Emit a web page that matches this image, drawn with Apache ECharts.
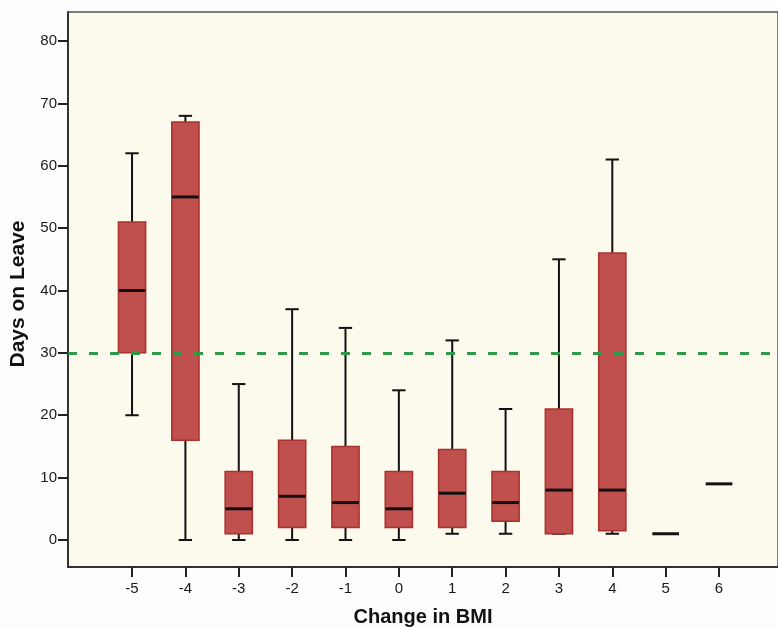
<!DOCTYPE html>
<html>
<head>
<meta charset="utf-8">
<script src="https://cdn.jsdelivr.net/npm/echarts@6/dist/echarts.min.js"></script>
<style>
html,body{margin:0;padding:0;background:#fdfdfd;}
#chart{width:778px;height:627px;}
</style>
</head>
<body>
<div id="chart"></div>
<script>
// ---- data ----
var categories = [-5, -4, -3, -2, -1, 0, 1, 2, 3, 4, 5, 6];
var lowWhisker = [20, 0, 0, 0, 0, 0, 1, 1, 1, 1, null, null];
var q1 = [30, 16, 1, 2, 2, 2, 2, 3, 1, 1.5, null, null];
var median = [40, 55, 5, 7, 6, 5, 7.5, 6, 8, 8, 1, 9];
var q3 = [51, 67, 11, 16, 15, 11, 14.5, 11, 21, 46, null, null];
var highWhisker = [62, 68, 25, 37, 34, 24, 32, 21, 45, 61, null, null];
var yTicks = [0, 10, 20, 30, 40, 50, 60, 70, 80];
var referenceLine = 30;

var boxData = categories.map(function (c, i) {
  return [c, lowWhisker[i], q1[i], median[i], q3[i], highWhisker[i]];
});

var BOX_W = 0.51, CAP_W = 0.25, MED_W = 0.5;

function renderBox(params, api) {
  var x = api.value(0);
  var lo = api.value(1), a = api.value(2), m = api.value(3), b = api.value(4), hi = api.value(5);
  var children = [];
  var black = '#111';
  function pt(xx, yy) { return api.coord([xx, yy]); }
  var hasBox = !isNaN(a) && a !== null && !isNaN(b);
  if (hasBox) {
    var pLo = pt(x, lo), pA = pt(x, a), pB = pt(x, b), pHi = pt(x, hi);
    children.push({type: 'line', shape: {x1: pLo[0], y1: pLo[1], x2: pA[0], y2: pA[1]}, style: {stroke: black, lineWidth: 2}});
    children.push({type: 'line', shape: {x1: pB[0], y1: pB[1], x2: pHi[0], y2: pHi[1]}, style: {stroke: black, lineWidth: 2}});
    var c1 = pt(x - CAP_W / 2, lo), c2 = pt(x + CAP_W / 2, lo);
    children.push({type: 'line', shape: {x1: c1[0], y1: c1[1], x2: c2[0], y2: c2[1]}, style: {stroke: black, lineWidth: 2}});
    var c3 = pt(x - CAP_W / 2, hi), c4 = pt(x + CAP_W / 2, hi);
    children.push({type: 'line', shape: {x1: c3[0], y1: c3[1], x2: c4[0], y2: c4[1]}, style: {stroke: black, lineWidth: 2}});
    var tl = pt(x - BOX_W / 2, b), br = pt(x + BOX_W / 2, a);
    children.push({type: 'rect', shape: {x: tl[0], y: tl[1], width: br[0] - tl[0], height: br[1] - tl[1]},
      style: {fill: '#C0504D', stroke: '#A8302E', lineWidth: 1.5}});
  }
  var m1 = pt(x - MED_W / 2, m), m2 = pt(x + MED_W / 2, m);
  children.push({type: 'line', shape: {x1: m1[0], y1: m1[1], x2: m2[0], y2: m2[1]}, style: {stroke: black, lineWidth: 3}});
  return {type: 'group', children: children};
}

var FONT = 'Liberation Sans, Arial, sans-serif';
var chart = echarts.init(document.getElementById('chart'));
chart.setOption({
  backgroundColor: '#fdfdfd',
  animation: false,
  grid: {left: 68, right: 0, top: 12, bottom: 60, show: true, backgroundColor: '#FCFAEC', borderColor: '#555', borderWidth: 1.5,
    containLabel: false, outerBoundsMode: 'none'},
  xAxis: {
    type: 'value', min: -6.2, max: 7.105,
    name: 'Change in BMI', nameLocation: 'middle', nameGap: 40,
    nameTextStyle: {fontFamily: FONT, fontWeight: 'bold', fontSize: 20, color: '#111'},
    axisLine: {show: true, onZero: false, lineStyle: {color: '#333', width: 2}},
    axisTick: {show: true, length: 10, lineStyle: {color: '#222', width: 2}, customValues: categories},
    axisLabel: {customValues: categories, formatter: function (v) { return String(v); },
      fontFamily: FONT, fontSize: 15, color: '#1a1a1a', margin: 14},
    splitLine: {show: false}
  },
  yAxis: {
    type: 'value', min: -4.33, max: 84.65,
    name: 'Days on Leave', nameLocation: 'middle', nameGap: 39,
    nameTextStyle: {fontFamily: FONT, fontWeight: 'bold', fontSize: 21, color: '#111', padding: [0, 9, 0, 0]},
    axisLine: {show: true, onZero: false, lineStyle: {color: '#333', width: 2}},
    axisTick: {show: true, length: 10, lineStyle: {color: '#222', width: 2}, customValues: yTicks},
    axisLabel: {customValues: yTicks, fontFamily: FONT, fontSize: 15, color: '#1a1a1a', margin: 11},
    splitLine: {show: false}
  },
  series: [{
    type: 'custom',
    renderItem: renderBox,
    encode: {x: 0, y: [1, 2, 3, 4, 5]},
    data: boxData,
    z: 3
  }, {
    type: 'line',
    data: [],
    markLine: {
      silent: true, symbol: 'none', label: {show: false},
      lineStyle: {color: '#2E9A48', width: 3, type: [9, 12]},
      data: [{yAxis: referenceLine}]
    },
    z: 2
  }]
});
</script>
</body>
</html>
